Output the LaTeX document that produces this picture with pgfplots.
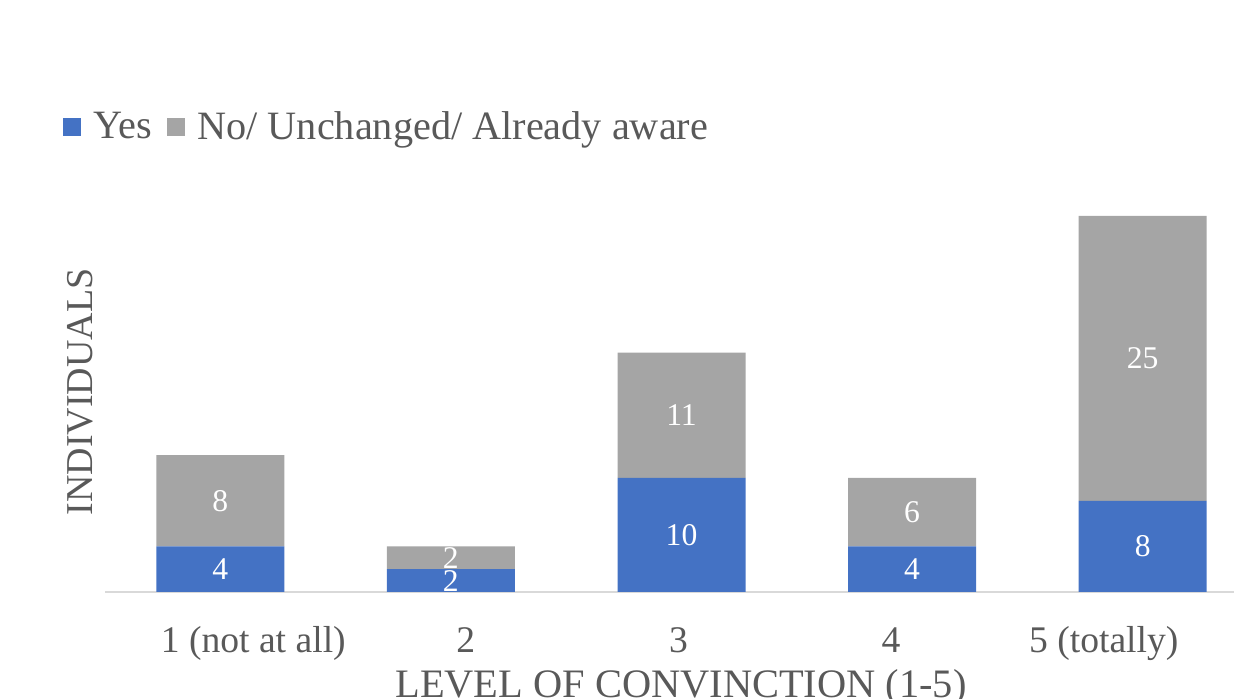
\documentclass[border=0pt]{standalone}
\usepackage{fontspec}
\setmainfont{Liberation Serif}
\usepackage{pgfplots}
\usepackage{pgfplotstable}
\pgfplotsset{compat=1.18}

\definecolor{yesblue}{HTML}{4472C4}
\definecolor{nogray}{HTML}{A5A5A5}
\definecolor{txtgray}{HTML}{595959}
\definecolor{axgray}{HTML}{D9D9D9}

% counts per level of conviction
\pgfplotstableread{
x yes no
0 4  8
1 2  2
2 10 11
3 4  6
4 8  25
}\convtable

% label positions (middle of each segment)
\pgfplotstableread{
x y    lab
0 2    4
0 8    8
1 1    2
1 3    2
2 5    10
2 15.5 11
3 2    4
3 7    6
4 4    8
4 20.5 25
}\labtable

\begin{document}
\begin{tikzpicture}
\path[use as bounding box] (0,0) rectangle (24.68,13.98);
\pgfplotsset{base/.style={
    at={(2.10cm,2.14cm)}, anchor=south west,
    scale only axis, width=23.06cm, height=7.98cm,
    xmin=-0.5, xmax=4.5, ymin=0, ymax=35}}

\begin{axis}[base,
    ybar stacked, bar width=2.56cm,
    axis y line=none,
    axis x line*=bottom,
    x axis line style={draw=axgray, line width=0.9pt, -},
    % labels sit on a slightly narrower spacing than the bars
    xtick={0.143,1.065,1.987,2.909,3.831},
    xticklabels={1 (not at all),2,3,4,5 (totally)},
    major tick length=0pt,
    xticklabel style={anchor=base, yshift=-1.22cm, text=txtgray,
        font=\fontsize{21.4}{25}\selectfont},
    legend columns=-1,
    legend style={draw=none, fill=none, inner sep=0pt,
        at={(axis description cs:-0.0364,1.1654)}, anchor=west,
        text=txtgray, font=\fontsize{22.9}{27}\selectfont,
        /tikz/every odd column/.append style={column sep=0.18cm},
        /tikz/every even column/.append style={column sep=0.22cm}},
    legend image code/.code={\fill[#1] (0cm,-0.18cm) rectangle (0.36cm,0.18cm);},
]
\addplot[fill=yesblue, draw=none] table[x=x, y=yes] {\convtable};
\addplot[fill=nogray, draw=none] table[x=x, y=no] {\convtable};
\legend{Yes, No/ Unchanged/ Already aware}
\end{axis}

\begin{axis}[base, hide axis]
\addplot[draw=none, mark=none, nodes near coords, point meta=explicit symbolic,
    nodes near coords style={anchor=center, text=white,
        font=\fontsize{18}{22}\selectfont}]
    table[x=x, y=y, meta=lab] {\labtable};
\end{axis}

\node[rotate=90, text=txtgray, font=\fontsize{21.6}{25}\selectfont] at (1.60,6.14) {INDIVIDUALS};
\node[anchor=base, text=txtgray, font=\fontsize{23}{27}\selectfont] at (13.62,0.02) {LEVEL OF CONVINCTION (1-5)};
\end{tikzpicture}
\end{document}
